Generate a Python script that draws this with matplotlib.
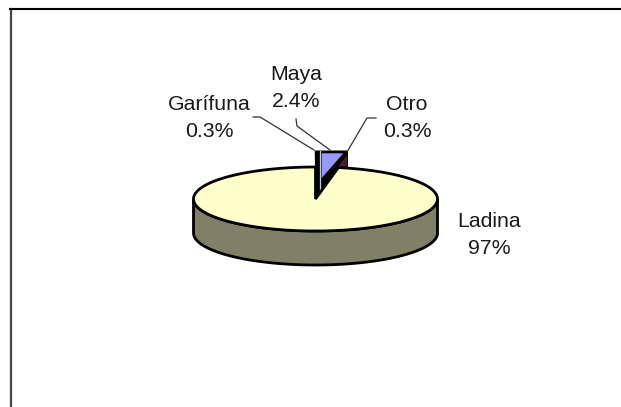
import numpy as np
import matplotlib
matplotlib.use("Agg")
import matplotlib.pyplot as plt
from matplotlib.patches import Polygon

plt.rcParams['font.family'] = ['Liberation Sans', 'DejaVu Sans']

# Population shares, in pie order starting from twelve o'clock
categories = ["Garífuna", "Maya", "Otro", "Ladina"]
shares = [0.3, 2.4, 0.3, 97.0]
share_labels = ["0.3%", "2.4%", "0.3%", "97%"]
top_colors = ["#000000", "#9999FF", "#4D1A33", "#FFFFCC"]
wall_color = "#808066"

W, H = 621, 407
fig = plt.figure(figsize=(W / 100, H / 100), dpi=100)
ax = fig.add_axes([0, 0, 1, 1])
ax.set_xlim(0, W)
ax.set_ylim(H, 0)
ax.axis("off")

# Tilted pie geometry
cx, cy, rx, ry, depth = 315.5, 199.0, 122.0, 32.0, 34.0
raised_top = 150.5
raised_right = 348.0


def rim(angle_deg):
    a = np.radians(angle_deg)
    return cx + rx * np.sin(a), cy - ry * np.cos(a)


def raised_point(angle_deg, y=raised_top):
    # Where a slice edge reaches the height y above the pie
    a = np.radians(angle_deg)
    return cx + (cy - y) * (rx / ry) * np.tan(a), y


edges = np.concatenate([[0], np.cumsum(shares)]) / sum(shares) * 360
lw = 2.0

# Side wall of the large slice
t = np.linspace(90, 270, 200)
front_x, front_y = rim(t)
wall = np.vstack([
    np.column_stack([front_x, front_y]),
    np.column_stack([front_x[::-1], front_y[::-1] + depth]),
])
ax.add_patch(Polygon(wall, closed=True, fc=wall_color, ec="black", lw=lw, zorder=1))

# Black body of the raised small slices; the fills sit inside it
ax.add_patch(Polygon(
    [(cx, cy + 1), (cx - 0.8, raised_top), (raised_right, raised_top),
     (raised_right, cy - ry + 1), rim(edges[3])],
    closed=True, fc=top_colors[0], ec="none", zorder=2))

# Otro
corner_x, corner_y = raised_point(edges[2], raised_top + 1.5)
ax.add_patch(Polygon(
    [(corner_x + 1.0, corner_y + 2.5), (raised_right - 1.2, corner_y + 2.5),
     (raised_right - 1.2, cy - ry + 1), (rim(edges[3])[0] - 1, cy - ry + 1)],
    closed=True, fc=top_colors[2], ec="none", zorder=3))

# Maya, inset from the slice edges
maya_left = cx + 6.2
maya_top = raised_top + 2.8
ax.add_patch(Polygon(
    [(maya_left, maya_top), (raised_point(edges[2], maya_top)[0] - 2, maya_top), (maya_left, cy - 21)],
    closed=True, fc=top_colors[1], ec="none", zorder=4))
ax.plot([cx + 4.6, cx + 4.6], [raised_top, cy - 9], color="#C8C8E0", lw=0.9, zorder=5)

# Top face of the large slice
t = np.linspace(edges[3], edges[4], 400)
top_x, top_y = rim(t)
ax.add_patch(Polygon(np.vstack([[cx, cy], np.column_stack([top_x, top_y])]), closed=True,
                     fc=top_colors[3], ec="black", lw=lw, joinstyle="miter", zorder=6))

# Leader lines from labels to slices
leaders = [
    [(253, 117), (260, 117), (314, 150)],
    [(296, 119), (297, 126), (330, 150)],
    [(376, 118), (367, 118), (347, 152)],
]
for path in leaders:
    xs, ys = zip(*path)
    ax.plot(xs, ys, color="#333333", lw=0.9, zorder=7)

# Slice labels
label_pos = [(209, 118), (296, 88), (407, 118), (489, 235)]
for (x, y), name, value in zip(label_pos, categories, share_labels):
    ax.text(x, y, f"{name}\n{value}", ha="center", va="center", fontsize=15.3,
            color="#1A1A1A", linespacing=1.56, zorder=8)

# Chart frame: left and top edges only
ax.plot([11, 11], [H, 8.5], color="#444444", lw=1.6, zorder=9)
ax.plot([10, W], [8.5, 8.5], color="black", lw=1.5, zorder=9)

fig.savefig("out.png", dpi=100, facecolor="white")
